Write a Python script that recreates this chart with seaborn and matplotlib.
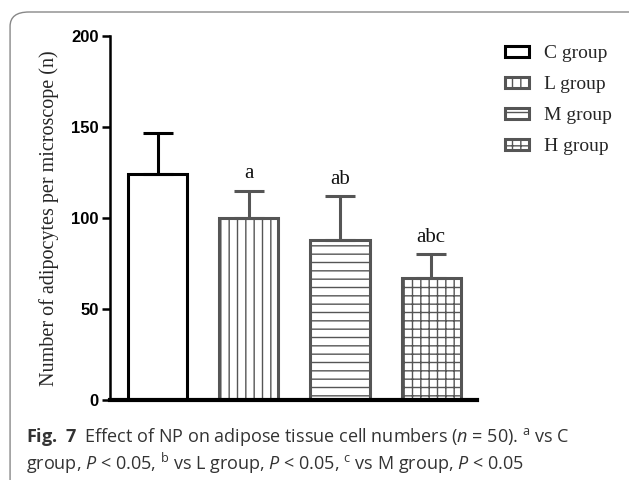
import matplotlib
matplotlib.use("Agg")
import matplotlib.pyplot as plt
import seaborn as sns
import pandas as pd
from matplotlib.patches import FancyBboxPatch, Patch

groups = ["C group", "L group", "M group", "H group"]
means = [124, 100, 88, 67]
sds = [23, 15, 24, 13]
marks = ["", "a", "ab", "abc"]
yticks = [0, 50, 100, 150, 200]

edge_colors = ["#000000", "#555555", "#555555", "#555555"]
hatches = ["", "||", "--", "++"]

sns.set_style("white")
plt.rcParams["hatch.linewidth"] = 1.0
plt.rcParams["mathtext.fontset"] = "custom"
plt.rcParams["mathtext.rm"] = "Open Sans"
plt.rcParams["mathtext.it"] = "Open Sans:italic"
plt.rcParams["mathtext.bf"] = "Open Sans:bold"

fig = plt.figure(figsize=(6.29, 4.80), dpi=100)
ax = fig.add_axes([0.175, 0.1667, 0.583, 0.758])

df = pd.DataFrame({"group": groups, "value": means})
sns.barplot(data=df, x="group", y="value", hue="group", order=groups,
            hue_order=groups, width=0.65, ax=ax, legend=False, errorbar=None,
            dodge=False)

for p, ec, h in zip(ax.patches, edge_colors, hatches):
    p.set_facecolor("white")
    p.set_edgecolor(ec)
    p.set_linewidth(2.2)
    p.set_hatch(h)

for i, (m, s, ec, lab) in enumerate(zip(means, sds, edge_colors, marks)):
    ax.errorbar(i, m, yerr=[[0], [s]], fmt="none", ecolor=ec,
                elinewidth=2.2, capsize=11, capthick=2.2, zorder=1)
    if lab:
        ax.text(i, m + s + 4, lab, ha="center", va="bottom",
                fontsize=15, family="Liberation Serif", color="#111111")

ax.set_xlim(-0.52, 3.5)
ax.set_ylim(0, 200)
ax.set_yticks(yticks)
ax.set_yticklabels([str(t) for t in yticks], fontsize=12,
                   fontweight="bold", family="Liberation Sans")
ax.set_xticks([])
ax.set_xlabel("")
ax.set_ylabel("Number of adipocytes per microscope (n)", fontsize=14.5,
              family="Liberation Serif", labelpad=9)
for sp in ["top", "right"]:
    ax.spines[sp].set_visible(False)
ax.spines["left"].set_linewidth(1.8)
ax.spines["left"].set_color("black")
ax.spines["bottom"].set_linewidth(3)
ax.spines["bottom"].set_color("black")
ax.tick_params(axis="y", direction="out", length=6, width=1.8, left=True,
               pad=2, colors="black")

handles = [Patch(facecolor="white", edgecolor=ec, hatch=h, linewidth=2.2)
           for ec, h in zip(edge_colors, hatches)]
leg = fig.legend(handles, groups, loc="upper left",
                 bbox_to_anchor=(0.775, 0.942), frameon=False,
                 prop={"family": "Liberation Serif", "size": 14},
                 handlelength=1.25, handleheight=0.45, handletextpad=0.75,
                 labelspacing=0.72)

frame = FancyBboxPatch((0.016, -0.05), 1.1, 1.025, boxstyle="round,pad=0,rounding_size=0.03",
                       transform=fig.transFigure, facecolor="none",
                       edgecolor="#888888", linewidth=1.0, clip_on=False)
fig.patches.append(frame)

cap1 = (r"$\bf{Fig.\ 7}$  Effect of NP on adipose tissue cell numbers ($n$ = 50). "
        r"$^{\rm a}$ vs C")
cap2 = (r"group, $P$ < 0.05, $^{\rm b}$ vs L group, $P$ < 0.05, "
        r"$^{\rm c}$ vs M group, $P$ < 0.05")
fig.text(0.042, 1 - 437 / 480, cap1, fontsize=13, family="Open Sans",
         color="#333333", va="center", ha="left")
fig.text(0.042, 1 - 463 / 480, cap2, fontsize=13, family="Open Sans",
         color="#333333", va="center", ha="left")

fig.savefig("out.png", dpi=100)
